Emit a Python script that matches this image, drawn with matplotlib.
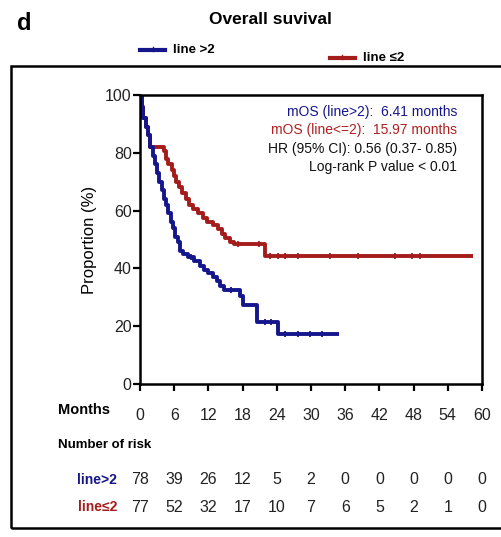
import matplotlib
matplotlib.use("Agg")
import matplotlib.pyplot as plt
import numpy as np
from matplotlib.lines import Line2D
from matplotlib.patches import Rectangle
from matplotlib.transforms import blended_transform_factory

plt.rcParams["font.family"] = ["Liberation Sans", "DejaVu Sans"]

BLUE = "#16168c"
RED = "#a51c1c"

# survival curves (months, % surviving)
hi_t = [0, 0.3, 0.6, 1.0, 1.4, 1.8, 2.2, 2.6, 3.0, 3.4, 3.8, 4.2, 4.6, 5.0, 5.4,
        5.8, 6.2, 6.6, 7.0, 7.5, 8.5, 9.5, 10.5, 11.2, 12.0, 12.8, 13.5, 14.0,
        14.8, 17.5, 18.0, 20.5, 24.2, 35.0]
hi_s = [100, 96, 92, 89, 86, 82, 79, 76, 73, 70, 67, 64, 62, 59, 56,
        54, 51, 49, 46, 45, 44, 42.5, 41, 39.5, 38.5, 37, 35.5, 34,
        32.5, 30.5, 27.5, 21.5, 17.2, 17.2]
hi_cens = [9.0, 16.0, 22.0, 23.0, 25.4, 27.7, 29.8, 31.9]

lo_t = [0, 0.3, 0.6, 1.0, 1.4, 1.8, 4.2, 4.6, 5.0, 5.6, 6.0, 6.4, 6.9, 7.4,
        8.0, 8.6, 9.3, 10.2, 11.0, 11.8, 12.8, 13.6, 14.4, 15.0, 15.8, 16.5,
        21.9, 58.5]
lo_s = [100, 96, 92, 89, 86, 82, 80.5, 78, 76, 74, 72, 70, 68, 66,
        64, 62, 60.5, 59, 57.5, 56, 55, 53.5, 52, 50.5, 49, 48.3,
        44.2, 44.2]
lo_cens = [17.2, 20.8, 22.8, 24.2, 25.4, 27.7, 33.3, 38.2, 44.7, 47.7, 49.1]

months = [0, 6, 12, 18, 24, 30, 36, 42, 48, 54, 60]
risk_hi = [78, 39, 26, 12, 5, 2, 0, 0, 0, 0, 0]
risk_lo = [77, 52, 32, 17, 10, 7, 6, 5, 2, 1, 0]

fig = plt.figure(figsize=(5.02, 5.37), dpi=100)
ax = fig.add_axes([140 / 502, 1 - 384 / 537, 342 / 502, 289 / 537])


def surv_at(t, ts, ss):
    idx = np.searchsorted(ts, t, side="right") - 1
    return np.array(ss)[idx]


# red first so the blue curve sits on top where they overlap
for ts, ss, cens, col in [(lo_t, lo_s, lo_cens, RED), (hi_t, hi_s, hi_cens, BLUE)]:
    ax.step(ts, ss, where="post", color=col, lw=2.8, solid_capstyle="butt")
    ax.plot(cens, surv_at(cens, ts, ss), ls="none", marker="|", ms=5, mew=1.3,
            color=col)

ax.set_xlim(0, 60)
ax.set_ylim(0, 100)
ax.set_yticks([0, 20, 40, 60, 80, 100])
ax.set_xticks(months)
ax.set_xticklabels([str(m) for m in months])
ax.tick_params(axis="both", direction="out", width=1.6, length=5,
               labelsize=11.5, colors="black", labelcolor="#222222")
ax.tick_params(axis="x", pad=12)
ax.tick_params(axis="y", pad=1)
for sp in ax.spines.values():
    sp.set_linewidth(1.8)
ax.set_ylabel("Proportion (%)", fontsize=12, labelpad=6)

# annotations
tx = 457 / 502
info = [("mOS (line>2):  6.41 months", BLUE), ("mOS (line<=2):  15.97 months", "#b02020"),
        ("HR (95% CI): 0.56 (0.37- 0.85)", "#111111"), ("Log-rank P value < 0.01", "#111111")]
for i, (s, c) in enumerate(info):
    fig.text(tx, 1 - (112 + 18.5 * i) / 537, s, color=c, fontsize=10, ha="right",
             va="center")

# title, panel letter, legend
fig.text(270 / 502, 1 - 20 / 537, "Overall suvival", fontsize=12.5, fontweight="bold",
         ha="center", va="center")
fig.text(17 / 502, 1 - 24 / 537, "d", fontsize=17, fontweight="bold", va="center")
for (x0, y0, lab, col) in [(140, 50, "line >2", BLUE), (330, 58, "line \u22642", RED)]:
    fig.add_artist(Line2D([x0 / 502, (x0 + 25) / 502], [1 - y0 / 537] * 2, color=col,
                          lw=3, transform=fig.transFigure))
    fig.add_artist(Line2D([(x0 + 12.5) / 502] * 2, [1 - (y0 - 3) / 537, 1 - (y0 + 1) / 537],
                          color=col, lw=1, transform=fig.transFigure))
    fig.text((x0 + 33) / 502, 1 - y0 / 537, lab, fontsize=9.5, fontweight="bold",
             va="center")

# outer frame (cropped on the right)
fig.add_artist(Rectangle((11 / 502, 1 - 528 / 537), 500 / 502, 462 / 537, fill=False,
                         lw=1.8, ec="black", transform=fig.transFigure))

# risk table
bt = blended_transform_factory(ax.transData, fig.transFigure)
fig.text(58 / 502, 1 - 410 / 537, "Months", fontsize=10.5, fontweight="bold", va="center")
fig.text(58 / 502, 1 - 445 / 537, "Number of risk", fontsize=9.5, fontweight="bold",
         va="center")
fig.text(117 / 502, 1 - 480 / 537, "line>2", fontsize=10, fontweight="bold", color=BLUE,
         ha="right", va="center")
fig.text(117 / 502, 1 - 507 / 537, "line\u22642", fontsize=10, fontweight="bold", color=RED,
         ha="right", va="center")
for m, a, b in zip(months, risk_hi, risk_lo):
    ax.text(m, 1 - 480 / 537, str(a), transform=bt, ha="center", va="center",
            fontsize=11.5, color="#222222")
    ax.text(m, 1 - 507 / 537, str(b), transform=bt, ha="center", va="center",
            fontsize=11.5, color="#222222")

fig.savefig("out.png", dpi=100)
